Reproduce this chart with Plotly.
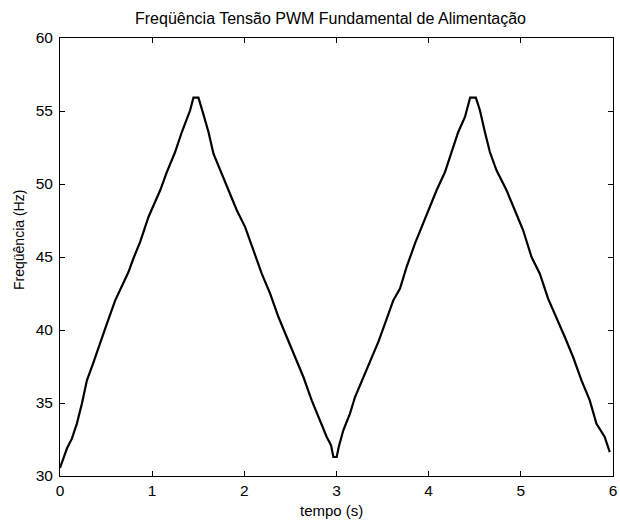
import plotly.graph_objects as go

# time (s) and frequency (Hz)
tempo = [0.000, 0.075, 0.129, 0.183, 0.238, 0.292, 0.346, 0.400, 0.436, 0.509,
         0.599, 0.671, 0.743, 0.798, 0.870, 0.960, 1.087, 1.159, 1.249, 1.322,
         1.412, 1.448, 1.502,
         1.557, 1.611, 1.665, 1.737, 1.828, 1.918, 2.009, 2.099, 2.189, 2.280,
         2.370, 2.460, 2.551, 2.641, 2.731, 2.822, 2.894, 2.941, 2.966, 3.002,
         3.025, 3.074, 3.146, 3.201, 3.291, 3.381, 3.454, 3.526, 3.616, 3.689,
         3.761, 3.851, 3.924, 3.996, 4.086, 4.177, 4.249, 4.321, 4.394, 4.450,
         4.512,
         4.556, 4.610, 4.664, 4.736, 4.845, 4.935, 5.025, 5.116, 5.206, 5.296,
         5.387, 5.477, 5.567, 5.658, 5.748, 5.820, 5.910, 5.965]
freq = [30.55, 31.88, 32.56, 33.59, 34.96, 36.55, 37.47, 38.50, 39.14, 40.44,
        42.03, 42.95, 43.97, 44.93, 46.03, 47.74, 49.57, 50.82, 52.19, 53.56,
        55.05, 55.92, 55.92,
        54.75, 53.56, 52.08, 50.94, 49.57, 48.20, 47.05, 45.46, 43.86, 42.49,
        40.89, 39.52, 38.15, 36.78, 35.18, 33.82, 32.67, 32.10, 31.30, 31.30,
        32.00, 33.13, 34.27, 35.41, 36.78, 38.15, 39.18, 40.44, 42.03, 42.84,
        44.32, 45.92, 47.05, 48.20, 49.57, 50.82, 52.19, 53.56, 54.59, 55.92,
        55.92,
        55.05, 53.56, 52.19, 50.94, 49.57, 48.20, 46.83, 45.00, 43.86, 42.15,
        40.89, 39.52, 38.15, 36.55, 35.18, 33.59, 32.67, 31.64]

x_ticks = [0, 1, 2, 3, 4, 5, 6]
y_ticks = [30, 35, 40, 45, 50, 55, 60]

title_text = "Freqüência Tensão PWM Fundamental de Alimentação"
x_label = "tempo (s)"
y_label = "Freqüência (Hz)"

FONT = "Liberation Sans, Arial, sans-serif"

W, H = 620, 520
L, R, T, B = 60, 7, 38, 44
PW, PH = W - L - R, H - T - B

fig = go.Figure()
fig.add_trace(go.Scatter(x=tempo, y=freq, mode="lines",
                         line=dict(color="black", width=2.2),
                         showlegend=False, hoverinfo="skip"))

axis_common = dict(showline=True, linecolor="black", linewidth=1, mirror="ticks",
                   ticks="inside", ticklen=5, tickcolor="black", tickwidth=1,
                   showgrid=False, zeroline=False, automargin=False,
                   tickfont=dict(family=FONT, size=15.5, color="black"))

fig.update_layout(
    width=W, height=H,
    margin=dict(l=L, r=R, t=T, b=B, autoexpand=False),
    paper_bgcolor="white", plot_bgcolor="white",
    font=dict(family=FONT, color="black"),
    title=dict(text=title_text, x=330.5 / W, xanchor="center", y=1 - 18.5 / H,
               yanchor="middle", yref="container",
               font=dict(family=FONT, size=16, color="black")),
    xaxis=dict(range=[0, 6], tickvals=x_ticks, ticktext=[str(v) for v in x_ticks],
               **axis_common),
    yaxis=dict(range=[30, 60], tickvals=y_ticks, ticktext=[str(v) for v in y_ticks],
               ticklabelstandoff=3, **axis_common),
    annotations=[
        dict(text=x_label, xref="paper", yref="paper", x=(331 - L) / PW, y=-34 / PH,
             xanchor="center", yanchor="middle", showarrow=False,
             font=dict(family=FONT, size=15, color="black")),
        dict(text=y_label, xref="paper", yref="paper", x=(19 - L) / PW,
             y=(T + PH - 240) / PH,
             xanchor="center", yanchor="middle", showarrow=False, textangle=-90,
             font=dict(family=FONT, size=14, color="black")),
    ],
)

fig.write_html(
    "out.html",
    config={"displayModeBar": False},
    post_script="document.body.style.margin='0';document.body.style.overflow='hidden';",
)
